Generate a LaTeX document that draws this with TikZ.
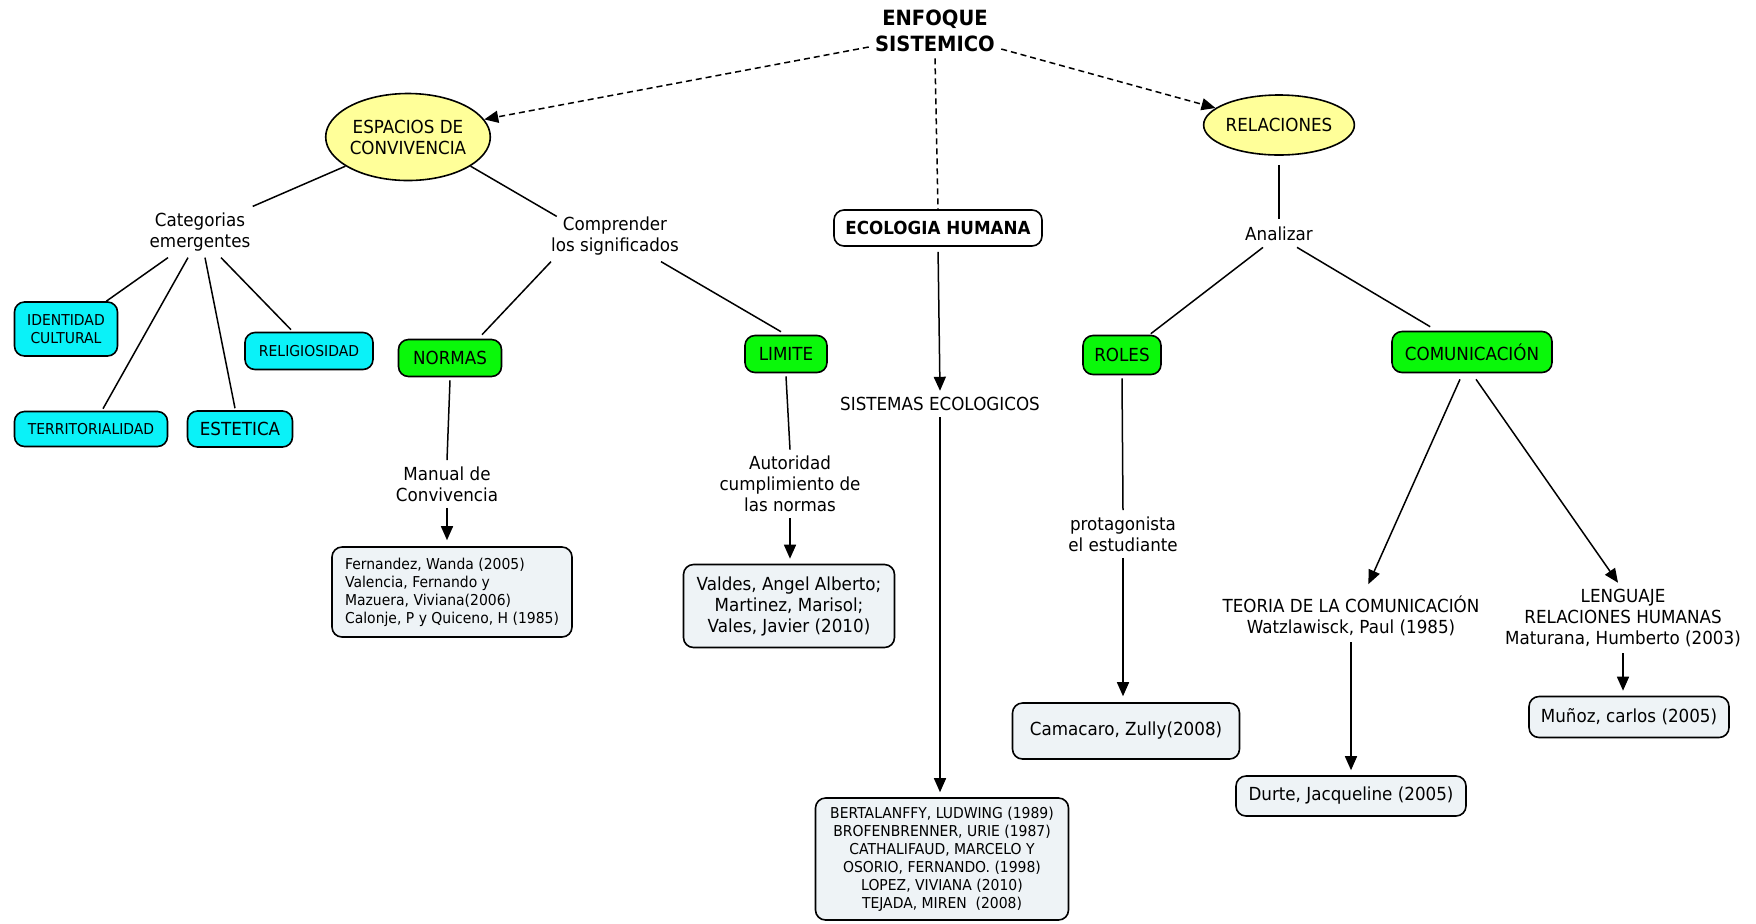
\documentclass[tikz,border=0pt]{standalone}
\usepackage{fontspec}
\setmainfont{DejaVu Sans}[FakeStretch=0.93]
\usetikzlibrary{arrows.meta,shapes.geometric}
\definecolor{yel}{HTML}{FFFF99}
\definecolor{cy}{HTML}{0AF2F8}
\definecolor{gr}{HTML}{0AF80A}
\definecolor{bx}{HTML}{EEF3F6}
\newcommand{\fnine}{\fontsize{9}{10.5}\selectfont}
\newcommand{\fsmall}{\fontsize{7.5}{9}\selectfont}
\tikzset{
  every node/.style={align=center, font=\fnine},
  lbl/.style={inner sep=3pt},
  ell/.style={ellipse, draw, line width=0.8pt, fill=yel, inner sep=0pt},
  rbox/.style={rounded corners=5pt, draw, line width=0.8pt, inner sep=0pt},
  cybox/.style={rbox, fill=cy, font=\fsmall},
  grbox/.style={rbox, fill=gr},
  refbox/.style={rbox, fill=bx},
  conn/.style={line width=0.75pt},
  arr/.style={conn, -{Triangle[length=7pt,width=6pt]}},
  dsh/.style={conn, dashed, dash pattern=on 3pt off 2pt},
  darr/.style={dsh, -{Triangle[length=7pt,width=6pt]}},
}
\begin{document}
\begin{tikzpicture}[x=0.5pt,y=-0.5pt]
\useasboundingbox (0,0) rectangle (1756,923);
\fill[white] (0,0) rectangle (1756,923);

% top
\node[lbl, font=\fontsize{10.5}{13}\selectfont\bfseries] (enf) at (935,31) {ENFOQUE\\SISTEMICO};
\node[ell, minimum width=78.5pt, minimum height=43.5pt] (esp) at (408,137) {ESPACIOS DE\\CONVIVENCIA};
\node[ell, minimum width=66pt, minimum height=30pt] (rel) at (1279,125) {RELACIONES};
\node[rbox, fill=white, font=\fnine\bfseries, minimum width=104pt, minimum height=18pt] (eco) at (938,228) {ECOLOGIA HUMANA};

% left branch
\node[lbl] (cat) at (200,232) {Categorias\\emergentes};
\node[lbl] (comp) at (615,236) {Comprender\\los significados};
\node[cybox, minimum width=51.5pt, minimum height=27pt] (ident) at (66,329) {IDENTIDAD\\CULTURAL};
\node[cybox, minimum width=76.5pt, minimum height=17.5pt] (terr) at (91,429) {TERRITORIALIDAD};
\node[cybox, font=\fnine, minimum width=52.5pt, minimum height=18pt] (est) at (240,429) {ESTETICA};
\node[cybox, minimum width=64pt, minimum height=18.5pt] (relig) at (309,351) {RELIGIOSIDAD};
\node[grbox, minimum width=51.5pt, minimum height=18.5pt] (normas) at (450,358) {NORMAS};
\node[grbox, minimum width=41pt, minimum height=18.5pt] (limite) at (786,354) {LIMITE};
\node[lbl] (manual) at (447,484) {Manual de\\Convivencia};
\node[lbl] (aut) at (790,484) {Autoridad\\cumplimiento de\\las normas};
\node[refbox, font=\fsmall, align=left, minimum width=120pt, minimum height=45pt] (fern) at (452,592)
  {Fernandez, Wanda (2005)\\Valencia, Fernando y\\Mazuera, Viviana(2006)\\Calonje, P y Quiceno, H (1985)};
\node[refbox, minimum width=105.5pt, minimum height=41.5pt] (valdes) at (789,606)
  {Valdes, Angel Alberto;\\Martinez, Marisol;\\Vales, Javier (2010)};

% center
\node[lbl] (sis) at (940,404) {SISTEMAS ECOLOGICOS};
\node[refbox, font=\fsmall, minimum width=126.5pt, minimum height=61pt] (bert) at (942,859)
  {BERTALANFFY, LUDWING (1989)\\BROFENBRENNER, URIE (1987)\\CATHALIFAUD, MARCELO Y\\OSORIO, FERNANDO. (1998)\\LOPEZ, VIVIANA (2010)\\TEJADA, MIREN\ \ (2008)};

% right branch
\node[lbl] (anal) at (1279,234) {Analizar};
\node[grbox, minimum width=39pt, minimum height=19.5pt] (roles) at (1122,355) {ROLES};
\node[grbox, minimum width=80pt, minimum height=20.5pt] (com) at (1472,352) {COMUNICACIÓN};
\node[lbl] (prot) at (1123,534) {protagonista\\el estudiante};
\node[refbox, minimum width=113.5pt, minimum height=28pt] (cam) at (1126,731) {Camacaro, Zully(2008)};
\node[lbl] (teo) at (1351,616) {TEORIA DE LA COMUNICACIÓN\\Watzlawisck, Paul (1985)};
\node[refbox, minimum width=115pt, minimum height=20pt] (durte) at (1351,796) {Durte, Jacqueline (2005)};
\node[lbl] (len) at (1623,618) {LENGUAJE\\RELACIONES HUMANAS\\Maturana, Humberto (2003)};
\node[refbox, minimum width=100pt, minimum height=20.5pt] (munoz) at (1629,717) {Muñoz, carlos (2005)};

% dashed connectors
\draw[darr] ([yshift=-8pt]enf.west) -- (esp.13);
\draw[darr] ([yshift=-9pt]enf.east) -- (rel.165);
\draw[dsh] (enf.south) -- (eco.north);

% left connectors
\draw[conn] (esp.205) -- ([xshift=-2pt]cat.north east);
\draw[conn] (esp.335) -- ([xshift=6pt,yshift=-3pt]comp.north west);
\draw[conn] ([xshift=-16pt]cat.south) -- ([xshift=-6pt]ident.north east);
\draw[conn] ([xshift=-6pt]cat.south) -- ([xshift=6pt,yshift=1pt]terr.north);
\draw[conn] ([xshift=2.5pt]cat.south) -- ([xshift=-2.5pt,yshift=1pt]est.north);
\draw[conn] ([xshift=10.5pt]cat.south) -- ([xshift=-9pt,yshift=1pt]relig.north);
\draw[conn] ([xshift=-32pt]comp.south) -- ([xshift=16pt,yshift=2pt]normas.north);
\draw[conn] ([xshift=23pt]comp.south) -- ([xshift=-2.5pt,yshift=1.5pt]limite.north);
\draw[conn] ([yshift=-1.5pt]normas.south) -- (manual.north);
\draw[arr, shorten >=3pt] (manual.south) -- (manual.south |- fern.north);
\draw[conn] ([yshift=-1.5pt]limite.south) -- (aut.north);
\draw[arr, shorten >=2.5pt] (aut.south) -- (aut.south |- valdes.north);

% center connectors
\draw[arr, shorten <=2.5pt] (eco.south) -- (sis.north);
\draw[arr, shorten >=2.5pt] (sis.south) -- (sis.south |- bert.north);

% right connectors
\draw[conn, shorten <=4.5pt, shorten >=1pt] (rel.south) -- (anal.north);
\draw[conn] ([xshift=-8pt]anal.south) -- ([xshift=-5.5pt,yshift=0.5pt]roles.north east);
\draw[conn] ([xshift=9pt]anal.south) -- ([xshift=19.5pt,yshift=2pt]com.north west);
\draw[conn] ([yshift=-1.5pt]roles.south) -- (prot.north);
\draw[arr, shorten >=3pt] (prot.south) -- (prot.south |- cam.north);
\draw[arr, shorten >=3pt] ([xshift=-6pt,yshift=-3pt]com.south) -- ([xshift=7.5pt]teo.north);
\draw[arr] ([xshift=2pt,yshift=-3pt]com.south) -- ([xshift=-2.5pt]len.north);
\draw[arr, shorten >=2.5pt] (teo.south) -- (teo.south |- durte.north);
\draw[arr, shorten >=2.5pt] (len.south) -- (len.south |- munoz.north);
\end{tikzpicture}
\end{document}
